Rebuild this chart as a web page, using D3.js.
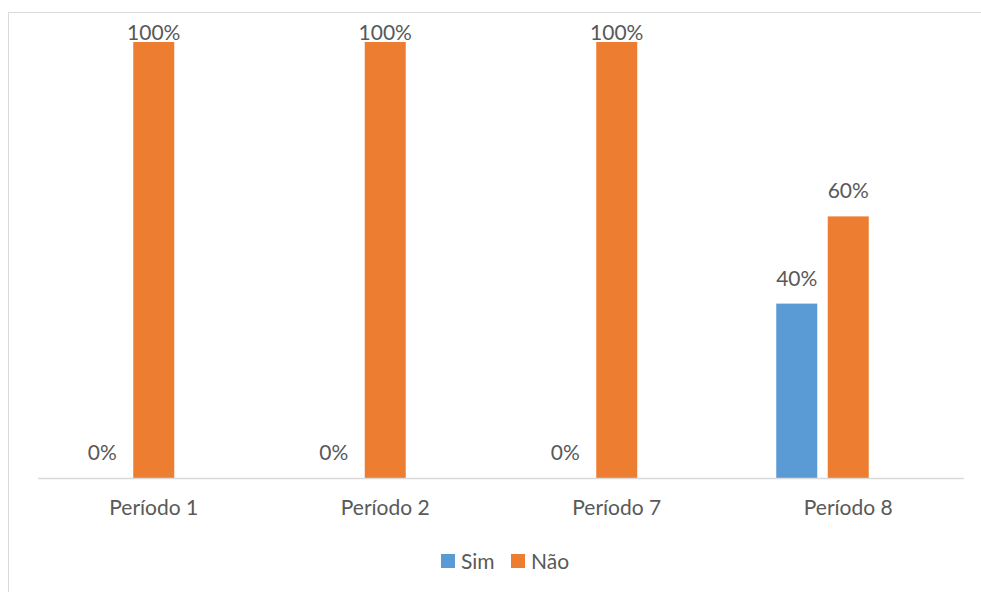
<!DOCTYPE html>
<html>
<head>
<meta charset="utf-8">
<script src="https://cdn.jsdelivr.net/npm/d3@7"></script>
<style>
  html, body { margin: 0; padding: 0; background: #fff; }
  svg { display: block; }
  text { font-family: Lato, "Open Sans", sans-serif; fill: #595959; }
</style>
</head>
<body>
<svg id="chart" width="981" height="592"></svg>
<script>
// Categories and series values (share of answers)
const periods = ["Período 1", "Período 2", "Período 7", "Período 8"];
const seriesNames = ["Sim", "Não"];
const sim = [0, 0, 0, 0.4];
const nao = [1, 1, 1, 0.6];
const seriesColors = ["#5B9BD5", "#ED7D31"];

const svg = d3.select("#chart");
const W = 981, H = 592;
const FS = 21;

// chart frame
svg.append("rect")
  .attr("x", 8.5).attr("y", 12.5)
  .attr("width", W + 10).attr("height", H + 10)
  .attr("fill", "none").attr("stroke", "#d9d9d9").attr("stroke-width", 1);

const plot = { left: 38, right: 964, top: 42, bottom: 478 };

const x0 = d3.scaleBand().domain(periods).range([plot.left, plot.right]).padding(0);
// three slots per cluster; the last slot stays empty
const x1 = d3.scaleBand().domain([...seriesNames, "_"]).range([-72, 72]).paddingInner(0.204).paddingOuter(0);
const y = d3.scaleLinear().domain([0, 1]).range([plot.bottom, plot.top]);

const rows = periods.map((p, i) => ({ period: p, values: [sim[i], nao[i]] }));
const fmt = d3.format(".0%");

const groups = svg.append("g").selectAll("g")
  .data(rows).join("g")
  .attr("transform", d => `translate(${x0(d.period) + x0.bandwidth() / 2},0)`);

const cells = groups.selectAll("g.cell")
  .data(d => d.values.map((v, k) => ({ key: seriesNames[k], value: v, k })))
  .join("g").attr("class", "cell");

cells.append("rect")
  .attr("x", d => x1(d.key))
  .attr("width", x1.bandwidth())
  .attr("y", d => y(d.value))
  .attr("height", d => y(0) - y(d.value))
  .attr("fill", d => seriesColors[d.k]);

cells.append("text")
  .attr("x", d => x1(d.key) + x1.bandwidth() / 2)
  .attr("y", d => Math.max(y(d.value) - 18, y(1) - 2))
  .attr("text-anchor", "middle")
  .attr("font-size", FS)
  .text(d => fmt(d.value));

// baseline
svg.append("line")
  .attr("x1", plot.left).attr("x2", plot.right)
  .attr("y1", y(0) + 0.5).attr("y2", y(0) + 0.5)
  .attr("stroke", "#d9d9d9").attr("stroke-width", 1.5);

// category labels
const xAxis = d3.axisBottom(x0).tickSize(0).tickPadding(0);
const ax = svg.append("g").attr("transform", `translate(0,${y(0)})`).call(xAxis);
ax.select(".domain").remove();
ax.selectAll("text")
  .attr("dy", null).attr("y", 37)
  .attr("font-size", FS)
  .attr("font-family", "Lato, 'Open Sans', sans-serif")
  .attr("fill", "#595959");

// legend
const legend = svg.append("g");
const legendItems = [{ x: 441, tx: 461 }, { x: 511, tx: 531 }];
seriesNames.forEach((name, k) => {
  legend.append("rect")
    .attr("x", legendItems[k].x).attr("y", 554)
    .attr("width", 14).attr("height", 14)
    .attr("fill", seriesColors[k]);
  legend.append("text")
    .attr("x", legendItems[k].tx).attr("y", 569)
    .attr("font-size", FS)
    .text(name);
});
</script>
</body>
</html>
